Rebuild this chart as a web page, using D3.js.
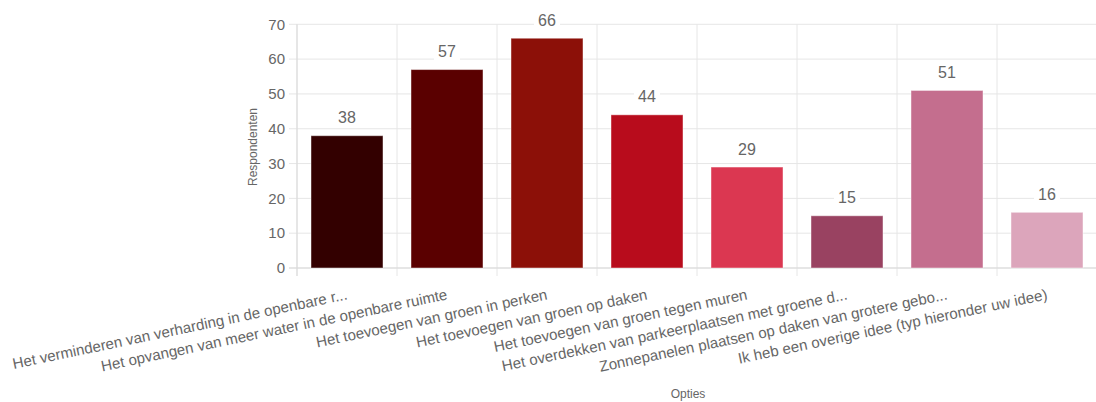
<!DOCTYPE html>
<html>
<head>
<meta charset="utf-8">
<script src="https://cdn.jsdelivr.net/npm/d3@7"></script>
<style>
  html, body { margin: 0; padding: 0; background: #fff; }
  svg { display: block; font-family: "Liberation Sans", Arial, sans-serif; }
</style>
</head>
<body>
<svg id="chart" width="1096" height="402"></svg>
<script>
const categories = [
  "Het verminderen van verharding in de openbare r...",
  "Het opvangen van meer water in de openbare ruimte",
  "Het toevoegen van groen in perken",
  "Het toevoegen van groen op daken",
  "Het toevoegen van groen tegen muren",
  "Het overdekken van parkeerplaatsen met groene d...",
  "Zonnepanelen plaatsen op daken van grotere gebo...",
  "Ik heb een overige idee (typ hieronder uw idee)"
];
const values = [38, 57, 66, 44, 29, 15, 51, 16];
const barColors = ["#330000", "#5a0000", "#8c1008", "#b80c1c", "#db3751", "#994261", "#c46e8e", "#dca5bb"];
const yTicks = [0, 10, 20, 30, 40, 50, 60, 70];
const yTitle = "Respondenten";
const xTitle = "Opties";

(function () {
const svg = d3.select("#chart");
const pL = 297, pR = 1097, pT = 24.3, pB = 268;

const x = d3.scaleBand().domain(categories).range([pL, pR]).paddingInner(0).paddingOuter(0);
const y = d3.scaleLinear().domain([0, 70]).range([pB, pT]);
const grid = "#e6e6e6";

svg.append("g").selectAll("line").data(yTicks).join("line")
  .attr("x1", pL - 8).attr("x2", pR)
  .attr("y1", d => y(d)).attr("y2", d => y(d))
  .attr("stroke", grid).attr("stroke-width", 1);

const xEdges = categories.map(c => x(c)).concat([pR]);
svg.append("g").selectAll("line").data(xEdges).join("line")
  .attr("x1", d => d).attr("x2", d => d)
  .attr("y1", pT).attr("y2", pB + 8)
  .attr("stroke", grid).attr("stroke-width", 1);

svg.append("line").attr("x1", pL).attr("x2", pL).attr("y1", pT).attr("y2", pB + 8)
  .attr("stroke", "#d9d9d9");
svg.append("line").attr("x1", pL - 8).attr("x2", pR).attr("y1", pB).attr("y2", pB)
  .attr("stroke", "#d9d9d9");

svg.append("g").selectAll("text").data(yTicks).join("text")
  .attr("x", 285).attr("y", d => y(d))
  .attr("dy", "0.35em")
  .attr("text-anchor", "end")
  .attr("font-size", 15).attr("fill", "#666")
  .text(d => d);

const barW = x.bandwidth() * 0.72;
svg.append("g").selectAll("rect").data(values).join("rect")
  .attr("x", (d, i) => x(categories[i]) + (x.bandwidth() - barW) / 2)
  .attr("y", d => y(d))
  .attr("width", barW)
  .attr("height", d => pB - y(d))
  .attr("fill", (d, i) => barColors[i])
  .attr("stroke", "rgba(255,255,255,0.45)")
  .attr("stroke-width", 1);

const lab = svg.append("g").selectAll("g").data(values).join("g")
  .attr("transform", (d, i) => `translate(${x(categories[i]) + x.bandwidth() / 2},${y(d) - 18})`);
lab.append("rect")
  .attr("x", -13).attr("y", -10).attr("width", 26).attr("height", 20)
  .attr("fill", "#fff");
lab.append("text")
  .attr("text-anchor", "middle").attr("dy", "0.35em")
  .attr("font-size", 16).attr("fill", "#666")
  .text(d => d);

const angle = -11.8;
svg.append("g").selectAll("text").data(categories).join("text")
  .attr("transform", d => `translate(${x(d) + x.bandwidth() / 2},${pB + 26}) rotate(${angle})`)
  .attr("text-anchor", "end")
  .attr("dy", "0.35em")
  .attr("font-size", 15.1).attr("fill", "#666")
  .text(d => d);

svg.append("text")
  .attr("transform", `translate(257,147) rotate(-90)`)
  .attr("text-anchor", "middle").attr("font-size", 12).attr("fill", "#666")
  .text(yTitle);
svg.append("text")
  .attr("x", 688).attr("y", 398)
  .attr("text-anchor", "middle").attr("font-size", 12).attr("fill", "#666")
  .text(xTitle);
})();
</script>
</body>
</html>
